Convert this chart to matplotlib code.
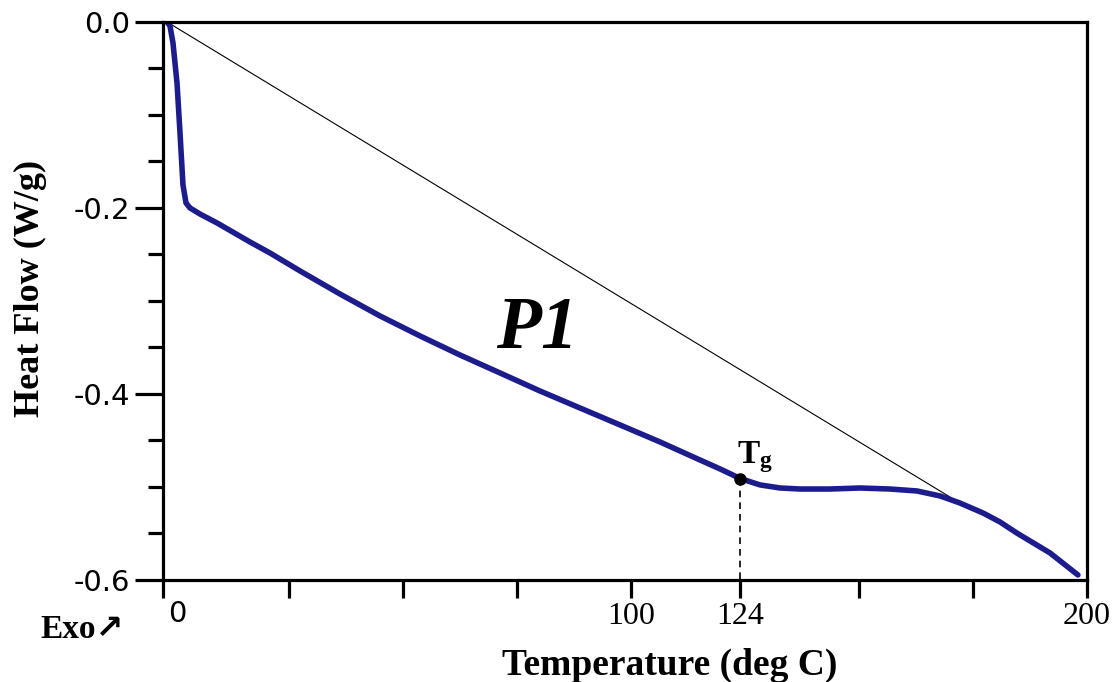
import matplotlib
matplotlib.use("Agg")
import matplotlib.pyplot as plt
import matplotlib.transforms as mtransforms
from matplotlib.ticker import MultipleLocator, FixedLocator

plt.rcParams["mathtext.fontset"] = "custom"
plt.rcParams["mathtext.rm"] = "Liberation Serif:bold"
plt.rcParams["mathtext.bf"] = "Liberation Serif:bold"
plt.rcParams["mathtext.it"] = "Liberation Serif:bold"

# Data
temperature = [-1.75, -1.10, -0.44, 0.44, 1.10, 1.75, 2.41, 3.29, 5.48, 9.21, 16.45,
               20.83, 27.41, 36.18, 44.96, 53.73, 62.50, 71.27, 80.04, 88.82, 97.59,
               106.36, 115.13, 119.52, 124.0, 128.3, 132.7, 137.1, 143.6, 150.2, 156.8,
               162.7, 167.8, 172.1, 177.2, 180.9, 184.6, 191.9, 198.0]
heat_flow = [0.0, -0.0043, -0.0226, -0.0656, -0.1194, -0.1753, -0.1946, -0.2000, -0.2065,
             -0.2161, -0.2366, -0.2484, -0.2677, -0.2925, -0.3161, -0.3376, -0.3581,
             -0.3774, -0.3968, -0.4151, -0.4333, -0.4516, -0.4710, -0.4806, -0.4910,
             -0.4978, -0.5011, -0.5022, -0.5022, -0.5011, -0.5022, -0.5043, -0.5097,
             -0.5172, -0.5280, -0.5376, -0.5495, -0.5710, -0.5946]
baseline_T = [-1.75, 172.1]
baseline_hf = [0.0, -0.5172]
tg_T = 124
tg_hf = -0.491
y_ticks = [0.0, -0.2, -0.4, -0.6]
y_tick_labels = ["0.0", "-0.2", "-0.4", "-0.6"]
x_tick_labels = {100: "100", 124: "124", 200: "200"}

fig = plt.figure(figsize=(11.18, 6.82), dpi=100)
ax = fig.add_axes([0.1458, 0.1496, 0.8265, 0.8182])

ax.plot(baseline_T, baseline_hf, color="black", lw=0.8)
ax.plot(temperature, heat_flow, color="#1c1c8c", lw=4.0, solid_capstyle="round",
        solid_joinstyle="round")
ax.plot([tg_T, tg_T], [tg_hf, -0.6], color="black", lw=1.2, ls=(0, (4, 3)))
ax.plot([tg_T], [tg_hf], "o", color="black", ms=8)
ax.text(123.2, -0.4742, r"$\mathrm{T_g}$", fontsize=24, ha="left", va="baseline")

ax.text(79.4, -0.3505, "P1", fontfamily="Liberation Serif", fontweight="bold",
        fontstyle="italic", fontsize=53, ha="center", va="baseline")

ax.set_xlim(-2.63, 200)
ax.set_ylim(-0.6, 0.0)

for s in ax.spines.values():
    s.set_linewidth(2.3)

# y ticks
ax.yaxis.set_major_locator(FixedLocator(y_ticks))
ax.yaxis.set_minor_locator(MultipleLocator(0.05))
ax.set_yticklabels(y_tick_labels, fontfamily="DejaVu Sans", fontsize=21)
ax.tick_params(axis="y", which="major", direction="out", length=20, width=2.3, pad=4)
ax.tick_params(axis="y", which="minor", direction="out", length=11, width=2.3)

# x ticks
xt = [-2.63, 25, 50, 75, 100, 124, 150, 175, 200]
ax.set_xticks(xt)
ax.set_xticklabels([x_tick_labels.get(v, "") for v in xt], fontfamily="Liberation Serif",
                   fontsize=23)
ax.tick_params(axis="x", which="major", direction="out", length=13, width=2.3, pad=3)
ax.text(0.6, -0.6, "0", fontfamily="DejaVu Sans", fontsize=21, ha="center", va="top",
        transform=ax.transData + mtransforms.ScaledTranslation(0, -20 / 100, fig.dpi_scale_trans))

fig.text(670 / 1118, 1 - 665 / 682, "Temperature (deg C)", fontfamily="Liberation Serif",
         fontweight="bold", fontsize=27, ha="center", va="center")
fig.text(30 / 1118, 1 - 288 / 682, "Heat Flow (W/g)", fontfamily="Liberation Serif",
         fontweight="bold", fontsize=26, ha="center", va="center", rotation=90)
fig.text(82 / 1118, 1 - 630 / 682, "Exo\u2197", fontfamily=["Liberation Serif", "DejaVu Sans"],
         fontweight="bold", fontsize=24, ha="center", va="center")

fig.savefig("out.png", dpi=100)
